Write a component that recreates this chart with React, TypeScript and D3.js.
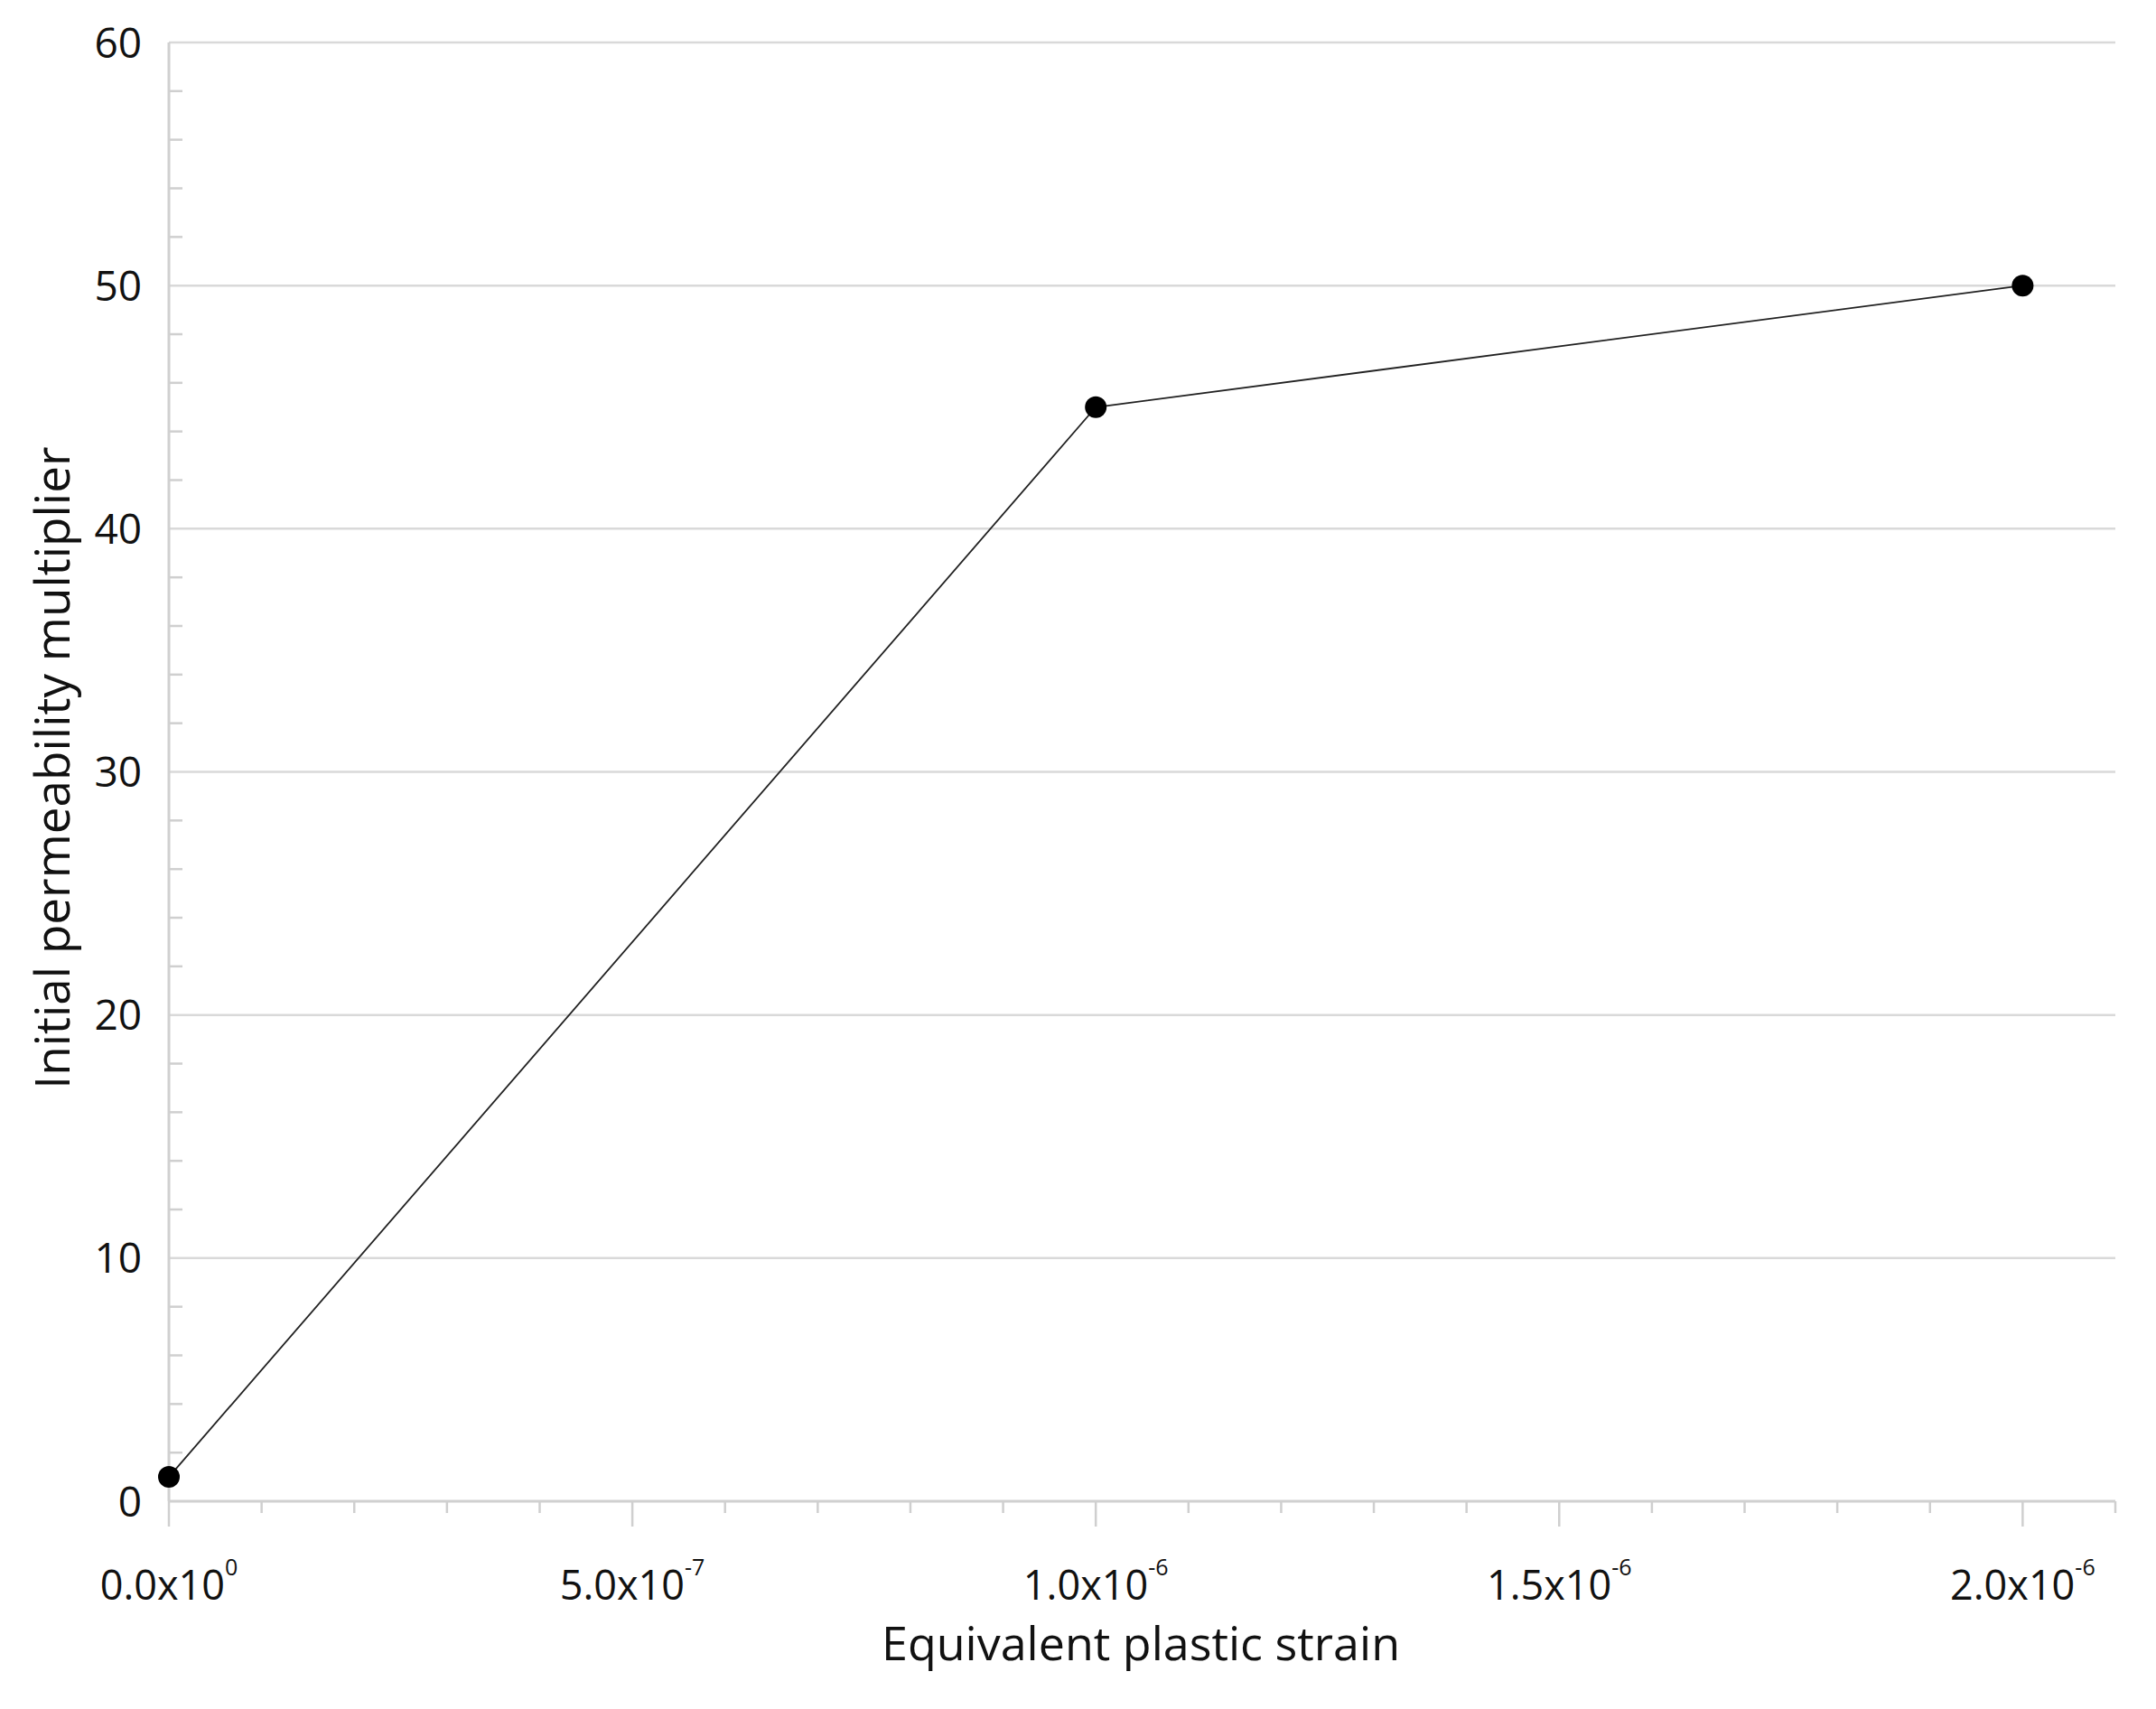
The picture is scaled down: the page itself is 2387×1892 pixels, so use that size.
import React from "react";
import * as d3 from "d3";

// data
const strain = [0, 1e-6, 2e-6];
const multiplier = [1, 45, 50];

const yMajorTicks = [0, 10, 20, 30, 40, 50, 60];
const xMajorTicks = [0, 5e-7, 1e-6, 1.5e-6, 2e-6];

const W = 2387;
const H = 1892;
const margin = { left: 187, right: 45, top: 47, bottom: 230 };
const FONT = "'Open Sans', 'Noto Sans', sans-serif";

function splitSci(v: number) {
  if (v === 0) return { mant: "0.0", exp: "0" };
  const e = Math.floor(Math.log10(Math.abs(v)) + 1e-9);
  const m = v / Math.pow(10, e);
  return { mant: m.toFixed(1), exp: String(e) };
}

export default function App() {
  const x = d3.scaleLinear().domain([0, 2.1e-6]).range([margin.left, W - margin.right]);
  const y = d3.scaleLinear().domain([0, 60]).range([H - margin.bottom, margin.top]);

  const x0 = x(0);
  const y0 = y(0);

  const xMinor = d3.range(0, 22).map((i) => i * 1e-7);
  const yMinor = d3.range(0, 31).map((i) => i * 2).filter((v) => v % 10 !== 0);

  const pts = strain.map((s, i) => [s, multiplier[i]] as [number, number]);
  const line = d3
    .line<[number, number]>()
    .x((d) => x(d[0]))
    .y((d) => y(d[1]));

  return (
    <svg
      width={W}
      height={H}
      style={{ position: "absolute", left: 0, top: 0, background: "#fff" }}
      fontFamily={FONT}
    >
      {/* horizontal gridlines */}
      {yMajorTicks
        .filter((v) => v !== 0)
        .map((v) => (
          <line key={"g" + v} x1={x0} x2={x(2.1e-6)} y1={y(v)} y2={y(v)} stroke="#d9d9d9" strokeWidth={2.5} />
        ))}

      {/* y minor ticks (inside) */}
      {yMinor.map((v) => (
        <line key={"ym" + v} x1={x0} x2={x0 + 15} y1={y(v)} y2={y(v)} stroke="#cfcfcf" strokeWidth={2.5} />
      ))}

      {/* x ticks */}
      {xMinor.map((v, i) => (
        <line
          key={"xm" + i}
          x1={x(v)}
          x2={x(v)}
          y1={y0}
          y2={y0 + (i % 5 === 0 ? 28 : 13)}
          stroke="#cfcfcf"
          strokeWidth={2.5}
        />
      ))}

      {/* axes */}
      <line x1={x0} x2={x0} y1={margin.top} y2={y0} stroke="#d0d0d0" strokeWidth={3} />
      <line x1={x0} x2={x(2.1e-6)} y1={y0} y2={y0} stroke="#d0d0d0" strokeWidth={3} />

      {/* y tick labels */}
      {yMajorTicks.map((v) => (
        <text key={"yl" + v} x={157} y={y(v)} dy="0.36em" textAnchor="end" fontSize={46} fill="#111">
          {v}
        </text>
      ))}

      {/* x tick labels */}
      {xMajorTicks.map((v) => {
        const { mant, exp } = splitSci(v);
        return (
          <text key={"xl" + v} x={x(v)} y={1771} textAnchor="middle" fontSize={45} fill="#111">
            {mant + "x10"}
            <tspan fontSize={25} dy={-27}>
              {exp}
            </tspan>
          </text>
        );
      })}

      {/* series */}
      <path d={line(pts) || ""} fill="none" stroke="#222" strokeWidth={1.8} />
      {pts.map((d, i) => (
        <circle key={"p" + i} cx={x(d[0])} cy={y(d[1])} r={12} fill="#000" />
      ))}

      {/* axis titles */}
      <text x={1263} y={1838} textAnchor="middle" fontSize={52} fill="#111">
        Equivalent plastic strain
      </text>
      <text
        transform={`translate(77, 850) rotate(-90)`}
        textAnchor="middle"
        fontSize={53}
        fill="#111"
      >
        Initial permeability multiplier
      </text>
    </svg>
  );
}
